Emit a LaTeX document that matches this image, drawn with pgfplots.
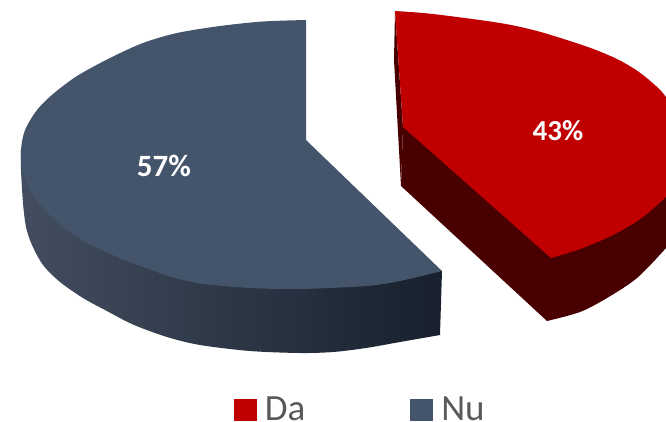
\documentclass[border=0pt]{standalone}
\usepackage{pgfplots}
\pgfplotsset{compat=1.18}
\usepackage{fontspec}
\setmainfont{Carlito}
\definecolor{nu}{HTML}{44546A}
\definecolor{da}{HTML}{C00000}
\definecolor{dadark}{HTML}{480000}
\definecolor{sideL}{RGB}{66,78,96}
\definecolor{sideR}{RGB}{23,32,44}
\definecolor{legtext}{HTML}{595959}
\begin{document}
\begin{tikzpicture}[x=1pt,y=1pt]
\path[use as bounding box] (0,0) rectangle (666,421);
\begin{axis}[
  at={(0,0)},anchor=south west,
  scale only axis,width=666pt,height=421pt,
  xmin=0,xmax=666,ymin=0,ymax=421,y dir=reverse,
  hide axis,clip=true,
  legend columns=2,
  legend cell align=left,
  legend style={draw=none,fill=none,at={(axis cs:234,409.5)},anchor=west,
    font=\fontsize{37}{37}\selectfont\color{legtext},inner sep=0pt,outer sep=0pt,
    nodes={inner sep=0pt,inner xsep=9pt},
    /tikz/every even column/.append style={column sep=96pt}},
]
% Nu side
\addplot[forget plot,draw=none,left color=sideL,right color=sideR,no markers,smooth] coordinates {
(21,150)(21,170)(23,203)(26,227)(32,245)(43,265)(60,282)(83,298)(105,310)(133,324.5)(167,337)(200,345)(250,351)(300,353)(333,352)(366,348)(400,342)(440,335)
} -- (axis cs:442,271) -- (axis cs:306,200) -- cycle;
% Nu top
\addplot[forget plot,draw=none,fill=nu,no markers,smooth] coordinates {
(306,20)(263,21.5)(220,26)(177,33)(143,43)(110,58)(77,76)(53,94)(37,110)(25,130)(21,150)(22,170)(30,190)(43,208)(63,227)(87,243)(120,258)(167,275.5)(200,283.5)(250,288)(300,289)(366,286)(400,281)(442,271)
} -- (axis cs:306,140) -- cycle;
% Da side
\addplot[forget plot,draw=none,fill=dadark,no markers] coordinates {
(395,11)(394,60)(401,186)(403,127)
} -- cycle;
\addplot[forget plot,draw=none,fill=dadark,no markers,smooth] coordinates {
(547,321)(580,312)(607,298)(637,278)(666,248)(685,225)
} -- (axis cs:690,100) -- (axis cs:403,127) -- (axis cs:401,186) -- cycle;
% Da top
\addplot[forget plot,draw=none,fill=da,no markers,smooth] coordinates {
(395,11)(433,14)(500,23)(537,31)(573,42)(596,50)(619,60)(639,72)(656,86)(666,97)(685,125)(692,155)(685,180)(666,197)(643,217)(617,233)(583,248)(551,258)
} -- (axis cs:403,127) -- cycle;
\addlegendimage{legend image code/.code={\fill[da] (0pt,-10.5pt) rectangle (21.5pt,10.5pt);}}
\addlegendentry{Da}
\addlegendimage{legend image code/.code={\fill[nu] (0pt,-10.5pt) rectangle (21.5pt,10.5pt);}}
\addlegendentry{Nu}
\node[text=white,font=\fontsize{31}{31}\selectfont\bfseries] at (axis cs:164,166) {57\%};
\node[text=white,font=\fontsize{29}{29}\selectfont\bfseries] at (axis cs:558,131) {43\%};
\end{axis}
\end{tikzpicture}
\end{document}
